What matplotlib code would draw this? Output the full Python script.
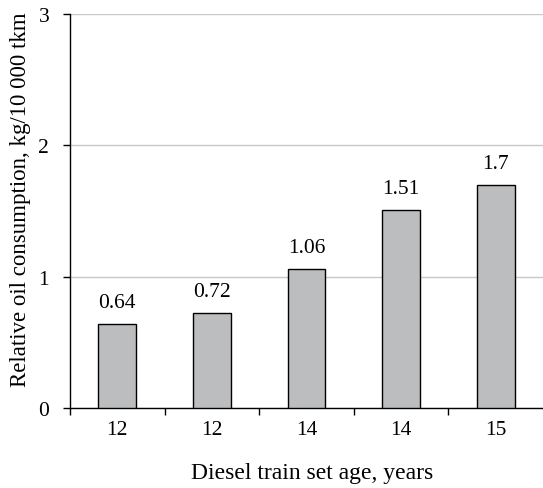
import matplotlib
matplotlib.use("Agg")
import matplotlib.pyplot as plt
import numpy as np

categories = ["12", "12", "14", "14", "15"]
values = [0.64, 0.72, 1.06, 1.51, 1.7]
labels = ["0.64", "0.72", "1.06", "1.51", "1.7"]
yticks = [0, 1, 2, 3]

plt.rcParams['font.family'] = ['Liberation Serif', 'DejaVu Serif']

fig = plt.figure(figsize=(5.43, 4.89), dpi=100)
ax = fig.add_axes([70/543, 1-409/489, 1-70/543, (409-15)/489])

x = np.arange(len(values))
ax.bar(x, values, width=0.4, color="#bcbdbf", edgecolor="black", linewidth=1.0, zorder=3)
for xi, v, lab in zip(x, values, labels):
    ax.text(xi, v + 0.13, lab, ha="center", va="baseline", fontsize=15.5)

ax.set_xlim(-0.5, len(values) - 0.5)
ax.set_ylim(0, 3)
ax.set_yticks(yticks)
ax.set_yticklabels([str(t) for t in yticks], fontsize=15.5)
ax.yaxis.grid(True, color="#c8c8c8", linewidth=1.0, zorder=0)
ax.set_axisbelow(True)

ax.set_xticks(x)
ax.set_xticklabels(categories, fontsize=15.5)
ax.tick_params(axis="x", length=0, pad=9)
ax.set_xticks(np.arange(-0.5, len(values) - 0.5, 1.0), minor=True)
ax.tick_params(axis="x", which="minor", length=5, width=1, direction="out")
ax.tick_params(axis="y", length=5, width=1, direction="out", pad=10)

for s in ["top", "right"]:
    ax.spines[s].set_visible(False)
ax.spines["left"].set_linewidth(1.0)
ax.spines["bottom"].set_linewidth(1.0)

ax.set_xlabel("Diesel train set age, years", fontsize=17)
ax.set_ylabel("Relative oil consumption, kg/10 000 tkm", fontsize=16.5)
ax.yaxis.set_label_coords(-0.082, 0.53)
ax.xaxis.set_label_coords(0.512, -0.137)

fig.savefig("out.png", dpi=100)
